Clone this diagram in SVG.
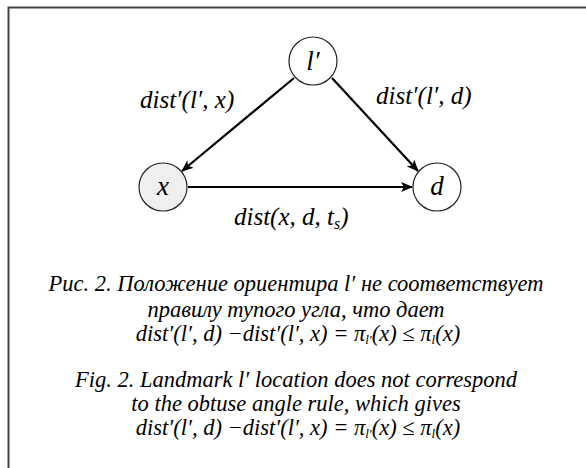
<svg xmlns="http://www.w3.org/2000/svg" width="586" height="468" viewBox="0 0 586 468" font-family="'Liberation Serif', 'Times New Roman', serif">
<style>
text{font-family:'Liberation Serif','Times New Roman',serif;font-style:italic;fill:#000}
.node{stroke:#222;stroke-width:1.2}
.edge{stroke:#000;stroke-width:2.2;fill:none;marker-end:url(#ah)}
.lbl{font-size:25px}
.cap{font-size:22.5px;text-anchor:middle}
.nt{font-size:27px;text-anchor:middle}
.frame{stroke:#444;stroke-width:2;fill:none}
</style>
<defs>
<marker id="ah" viewBox="0 0 12 10" refX="11" refY="5" markerWidth="12" markerHeight="10" markerUnits="userSpaceOnUse" orient="auto">
<path d="M0,0 L12,5 L0,10 L3,5 Z" fill="#000"/>
</marker>
</defs>
<rect width="586" height="468" fill="#fff"/>
<path class="frame" d="M8.5,468 V7.5 H586"/>
<g id="connectors">
<line class="edge" x1="294" y1="78" x2="182" y2="171"/>
<line class="edge" x1="332" y1="78" x2="418" y2="171"/>
<line class="edge" x1="188" y1="187" x2="412" y2="187"/>
</g>
<g id="node-lprime">
<circle class="node" cx="313" cy="61" r="24" fill="#fff"/>
<text class="nt" x="313" y="70">l′</text>
</g>
<g id="node-x">
<circle class="node" cx="163" cy="187" r="24" fill="#efefef"/>
<text class="nt" x="163" y="195">x</text>
</g>
<g id="node-d">
<circle class="node" cx="437" cy="187" r="24" fill="#fff"/>
<text class="nt" x="437" y="195">d</text>
</g>
<g id="labels">
<text class="lbl" x="140" y="108">dist′(l′, x)</text>
<text class="lbl" x="376" y="104">dist′(l′, d)</text>
<text class="lbl" x="234" y="225">dist(x, d, t<tspan font-size="16" dy="4">s</tspan><tspan dy="-4">)</tspan></text>
</g>
<g id="caption">
<text class="cap" x="296" y="291">Рис. 2. Положение ориентира l′ не соответствует</text>
<text class="cap" x="296" y="317">правилу тупого угла, что дает</text>
<text class="cap" x="298" y="341">dist′(l′, d) −dist′(l′, x) = π<tspan font-size="13" dy="3">l′</tspan><tspan dy="-3">(x) ≤ π</tspan><tspan font-size="13" dy="3">l</tspan><tspan dy="-3">(x)</tspan></text>
<text class="cap" x="296" y="387">Fig. 2. Landmark l′ location does not correspond</text>
<text class="cap" x="296" y="411">to the obtuse angle rule, which gives</text>
<text class="cap" x="298" y="435">dist′(l′, d) −dist′(l′, x) = π<tspan font-size="13" dy="3">l′</tspan><tspan dy="-3">(x) ≤ π</tspan><tspan font-size="13" dy="3">l</tspan><tspan dy="-3">(x)</tspan></text>
</g>
</svg>
